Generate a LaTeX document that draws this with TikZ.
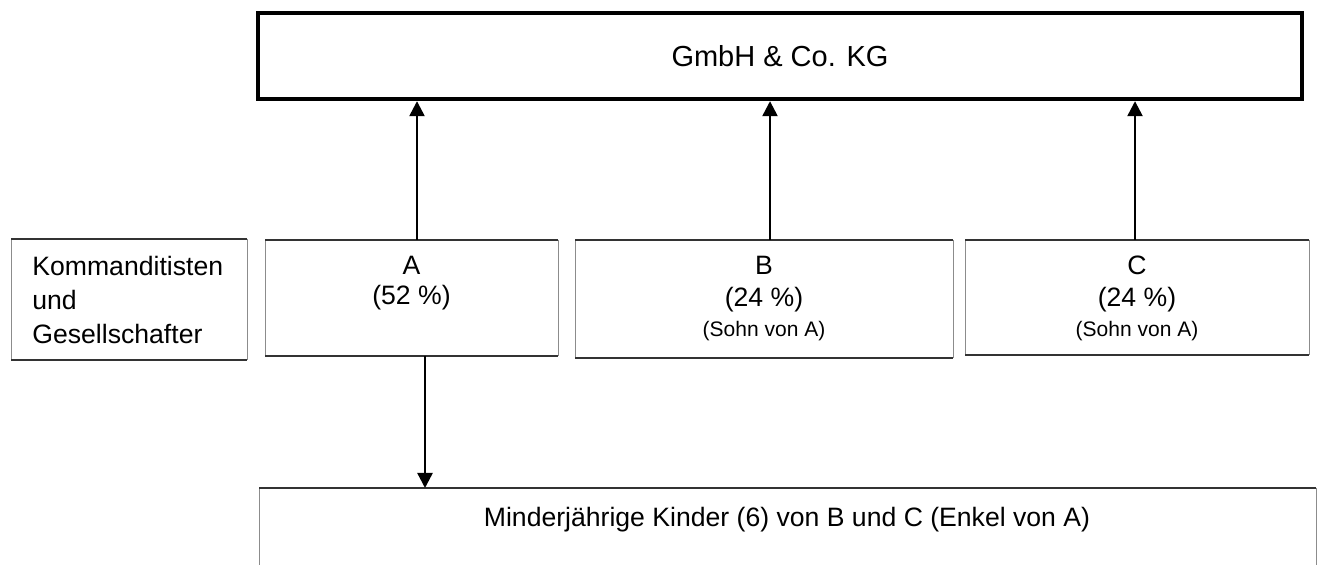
\documentclass[tikz,border=0pt]{standalone}
\usepackage{fontspec}
\setmainfont{Liberation Sans}
\usetikzlibrary{arrows.meta}
\begin{document}
\begin{tikzpicture}[x=0.5pt,y=-0.5pt,
  frame/.style={rectangle,draw=none,inner sep=0pt,outer sep=0pt},
  title/.style={font=\fontsize{14.5}{17}\selectfont},
  txt/.style={font=\fontsize{13.3}{17}\selectfont,inner sep=0pt},
  small/.style={font=\fontsize{10.5}{12}\selectfont,inner sep=0pt},
  edgeh/.style={draw=black!80,line width=0.7pt},
  edgev/.style={draw=black!45,line width=0.5pt},
  arr/.style={line width=1.2pt,-{Triangle[width=7.5pt,length=7.5pt]}}]
\useasboundingbox (0,0) rectangle (1320,565);
\clip (0,0) rectangle (1320,565);

% company at the top
\node[rectangle,draw=black,line width=2.2pt,inner sep=0pt,
      minimum width=522pt,minimum height=43pt,title] (top) at (780,56) {GmbH \& Co. KG};

% partner boxes
\node[frame,minimum width=118pt,minimum height=60.5pt] (lab) at (129,299.5) {};
\node[frame,minimum width=146.5pt,minimum height=58pt] (A) at (411.5,298) {};
\node[frame,minimum width=189pt,minimum height=59pt] (B) at (764,299) {};
\node[frame,minimum width=172pt,minimum height=57.5pt] (C) at (1137,297.5) {};
\node[frame,minimum width=528.5pt,minimum height=60pt] (kids) at (787.5,548) {};

\foreach \n in {lab,A,B,C,kids}{
  \draw[edgev] (\n.north west) -- (\n.south west) (\n.north east) -- (\n.south east);
  \draw[edgeh] (\n.north west) -- (\n.north east) (\n.south west) -- (\n.south east);
}

% texts
\node[txt,align=left,anchor=west] (labt) at (32,300)
  {Kommanditisten\\und\\Gesellschafter};

\path (A.north) ++(0,35) node[txt,anchor=base] (At1) {A};
\path (A.north) ++(0,65) node[txt,anchor=base] (At2) {(52 \%)};

\path (B.north) ++(0,35) node[txt,anchor=base] (Bt1) {B};
\path (B.north) ++(0,67) node[txt,anchor=base] (Bt2) {(24 \%)};
\path (B.north) ++(0,97) node[small,anchor=base] (Bt3) {(Sohn von A)};

\path (C.north) ++(0,35) node[txt,anchor=base] (Ct1) {C};
\path (C.north) ++(0,67) node[txt,anchor=base] (Ct2) {(24 \%)};
\path (C.north) ++(0,97) node[small,anchor=base] (Ct3) {(Sohn von A)};

\node[txt,anchor=base] (kidst) at (787,526)
  {Minderjährige Kinder (6) von B und C (Enkel von A)};

% connectors
\coordinate (xa) at (417,0);
\coordinate (xb) at (770,0);
\coordinate (xc) at (1135,0);
\coordinate (xd) at (425,0);
\draw[arr] (xa |- A.north) -- (xa |- top.south);
\draw[arr] (xb |- B.north) -- (xb |- top.south);
\draw[arr] (xc |- C.north) -- (xc |- top.south);
\draw[arr] (xd |- A.south) -- (xd |- kids.north);
\end{tikzpicture}
\end{document}
